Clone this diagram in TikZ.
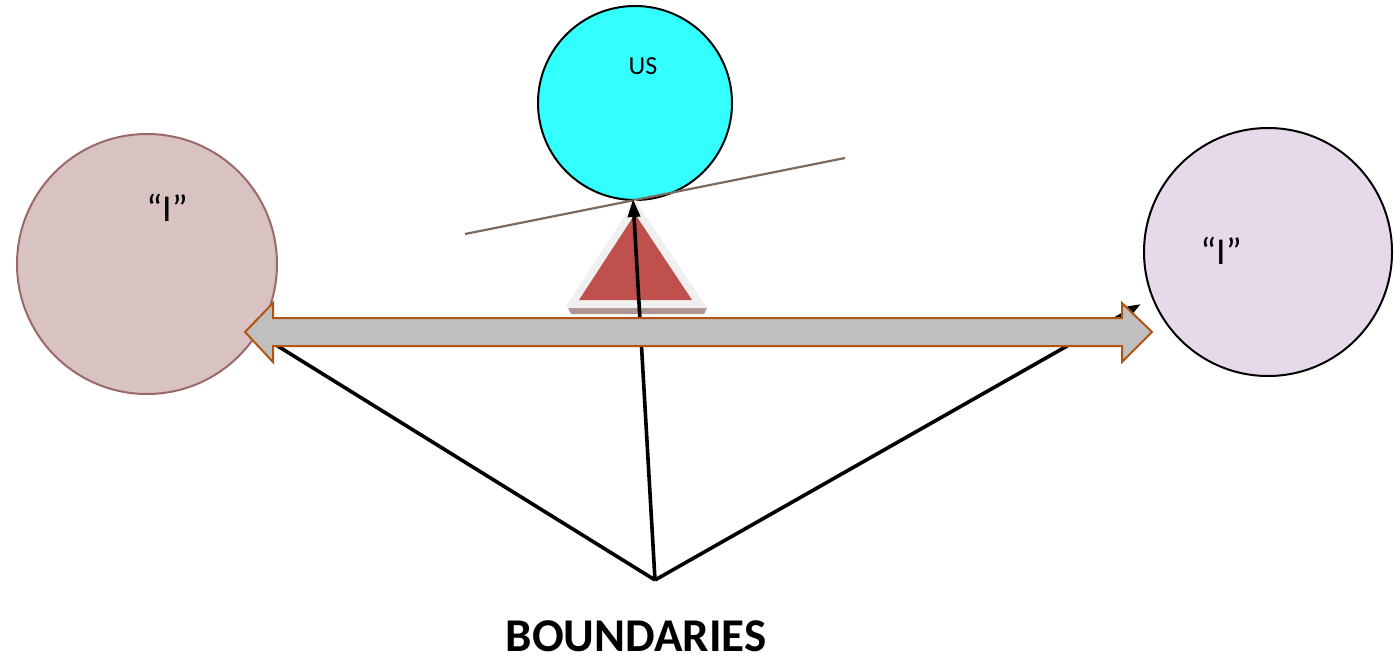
\documentclass[tikz,border=0pt]{standalone}
\usepackage{fontspec}
\setmainfont{Carlito}
\usetikzlibrary{arrows.meta}
\definecolor{cyanfill}{RGB}{51,255,255}
\definecolor{leftfill}{RGB}{216,194,194}
\definecolor{leftdraw}{RGB}{155,105,105}
\definecolor{rightfill}{RGB}{229,217,234}
\definecolor{beamcol}{RGB}{125,105,95}
\definecolor{redtri}{RGB}{192,80,77}
\definecolor{tripale}{RGB}{240,240,240}
\definecolor{trishadow}{RGB}{176,148,148}
\definecolor{arrowfill}{RGB}{191,191,191}
\definecolor{arrowdraw}{RGB}{178,85,20}
\tikzset{
  ball/.style={circle, inner sep=0pt, line width=2pt},
  pointer/.style={line width=3.6pt, black},
  ptip/.style={-{Triangle[length=18pt,width=12pt]}},
  label/.style={inner sep=0pt, font=\fontsize{38}{42}\selectfont}
}
\begin{document}
\begin{tikzpicture}[x=1pt,y=-1pt]
\useasboundingbox (0,0) rectangle (1394,662);
% circles
\node[ball, draw=black, fill=cyanfill, minimum size=194pt] (us) at (635,103) {};
\node[ball, draw=leftdraw, fill=leftfill, minimum size=260pt] (left) at (147,264) {};
\node[ball, draw=black, fill=rightfill, minimum size=248pt] (right) at (1268,252) {};
\node[inner sep=0pt, font=\fontsize{26}{30}\selectfont] (ustext) at (643,66) {US};
\node[label] (ileft) at (167,208) {“I”};
\node[label] (iright) at (1221,251) {“I”};
% beam
\coordinate (beamL) at (465,234);
\coordinate (beamR) at (845,158);
\draw[beamcol, line width=2.2pt] (beamL) -- (beamR);
% fulcrum triangle
\fill[trishadow] (568,308) -- (707,308) -- (704,314) -- (571,314) -- cycle;
\fill[tripale] (635,200) -- (707,308) -- (565,308) -- cycle;
\fill[redtri] (635,214) -- (692,300) -- (579,300) -- cycle;
% pointer lines
\coordinate (apex) at (655,580);
\coordinate (fulcrum) at (633,199);
\coordinate (leftend) at (268,340);
\coordinate (rightend) at (1141,304);
\draw[pointer, ptip] (apex) -- (fulcrum);
\draw[pointer] (apex) -- (leftend);
\draw[pointer, ptip] (apex) -- (rightend);
% double arrow
\draw[fill=arrowfill, draw=arrowdraw, line width=2pt, line join=miter]
  (245,332) -- (273,303) -- (273,318) -- (1122,318) -- (1122,303) -- (1152,332)
  -- (1122,362) -- (1122,346) -- (273,346) -- (273,362) -- cycle;
% bottom label
\node[inner sep=0pt, anchor=base, font=\bfseries\fontsize{47}{52}\selectfont] (bound) at (636,651) {BOUNDARIES};
\end{tikzpicture}
\end{document}
